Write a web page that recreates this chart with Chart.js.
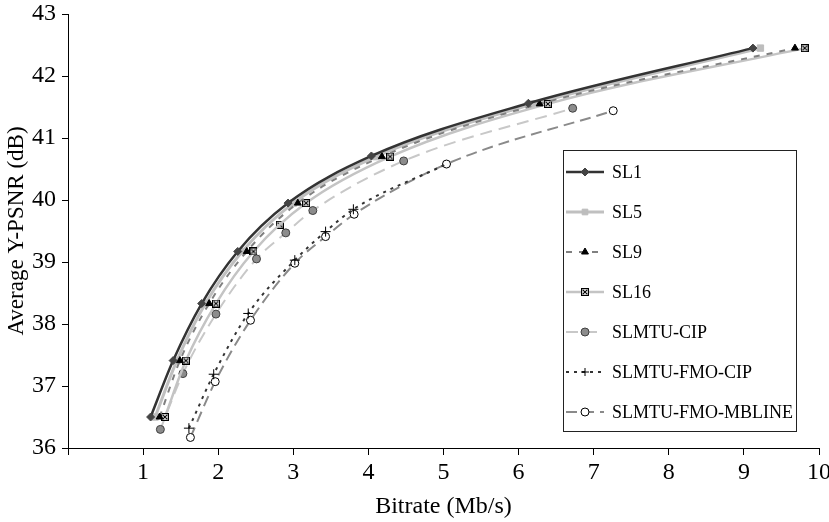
<!DOCTYPE html>
<html>
<head>
<meta charset="utf-8">
<style>
html, body { margin: 0; padding: 0; background: #fff; }
#wrap { width: 829px; height: 522px; }
</style>
<script src="https://cdn.jsdelivr.net/npm/chart.js"></script>
</head>
<body>
<div id="wrap"><canvas id="psnrChart" width="829" height="522"></canvas></div>
<script>
// Valores (bitrate en Mb/s, PSNR en dB)
var seriesNames = ['SL1', 'SL5', 'SL9', 'SL16', 'SLMTU-CIP', 'SLMTU-FMO-CIP', 'SLMTU-FMO-MBLINE'];

var sl1Rate  = [1.10, 1.40, 1.78, 2.26, 2.93, 4.04, 6.13, 9.12];
var sl1Psnr  = [36.50, 37.41, 38.33, 39.17, 39.95, 40.71, 41.56, 42.45];
var sl5Rate  = [1.16, 1.45, 1.83, 2.32, 3.00, 4.10, 6.20, 9.22];
var sl5Psnr  = [36.50, 37.41, 38.33, 39.17, 39.95, 40.70, 41.55, 42.45];
var sl9Rate  = [1.22, 1.49, 1.88, 2.38, 3.06, 4.18, 6.28, 9.68];
var sl9Psnr  = [36.50, 37.41, 38.33, 39.17, 39.95, 40.70, 41.55, 42.45];
var sl16Rate = [1.29, 1.57, 1.97, 2.47, 3.17, 4.29, 6.39, 9.81];
var sl16Psnr = [36.50, 37.41, 38.33, 39.17, 39.95, 40.70, 41.55, 42.45];
var cipRate  = [1.23, 1.53, 1.97, 2.51, 2.90, 3.26, 4.47, 6.72];
var cipPsnr  = [36.30, 37.20, 38.16, 39.05, 39.47, 39.83, 40.63, 41.48];
var fmoCipRate = [1.61, 1.94, 2.40, 3.02, 3.43, 3.80, 5.04];
var fmoCipPsnr = [36.32, 37.19, 38.17, 39.03, 39.49, 39.85, 40.58];
var mblRate  = [1.63, 1.96, 2.43, 3.02, 3.43, 3.81, 5.04, 7.26];
var mblPsnr  = [36.17, 37.07, 38.06, 38.98, 39.41, 39.77, 40.58, 41.44];
// marcador suelto de SL16 que aparece en el original
var strayRate = [2.82];
var strayPsnr = [39.60];

var xTicks = [0, 1, 2, 3, 4, 5, 6, 7, 8, 9, 10];
var yTicks = [36, 37, 38, 39, 40, 41, 42, 43];

function pairs(xs, ys) {
    return xs.map(function (x, i) { return { x: x, y: ys[i] }; });
}

// marcador cuadrado con aspa (SL16)
var xBox = document.createElement('canvas');
xBox.width = 8; xBox.height = 8;
(function () {
    var g = xBox.getContext('2d');
    g.fillStyle = '#fff'; g.fillRect(0, 0, 8, 8);
    g.strokeStyle = '#000'; g.lineWidth = 1.2;
    g.strokeRect(0.6, 0.6, 6.8, 6.8);
    g.beginPath();
    g.moveTo(1.8, 1.8); g.lineTo(6.2, 6.2);
    g.moveTo(6.2, 1.8); g.lineTo(1.8, 6.2);
    g.stroke();
})();

var serif = "'Liberation Serif', 'DejaVu Serif', serif";

// Leyenda dibujada dentro del área del gráfico
var legendBox = {
    id: 'legendBox',
    afterDatasetsDraw: function (chart) {
        var c = chart.ctx;
        var x0 = 563, y0 = 150, w = 233, h = 281;
        c.save();
        c.fillStyle = '#fff';
        c.fillRect(x0, y0, w, h);
        c.strokeStyle = '#222';
        c.lineWidth = 1;
        c.strokeRect(x0 + 0.5, y0 + 0.5, w, h);
        c.font = '18px ' + serif;
        c.textBaseline = 'middle';
        c.textAlign = 'left';
        seriesNames.forEach(function (name, i) {
            var ds = chart.data.datasets[i];
            var y = y0 + 22 + i * 40;
            c.setLineDash(ds.borderDash || []);
            c.strokeStyle = ds.borderColor;
            c.lineWidth = ds.borderWidth;
            c.beginPath();
            c.moveTo(x0 + 3, y);
            c.lineTo(x0 + 41, y);
            c.stroke();
            c.setLineDash([]);
            c.fillStyle = ds.pointBackgroundColor;
            c.strokeStyle = ds.pointBorderColor;
            c.lineWidth = ds.pointBorderWidth;
            Chart.helpers.drawPoint(c, {
                pointStyle: ds.pointStyle,
                radius: 4,
                rotation: 0,
                borderWidth: ds.pointBorderWidth
            }, x0 + 22, y);
            c.fillStyle = '#000';
            c.fillText(name, x0 + 49, y + 1);
        });
        c.restore();
    }
};

var ctx = document.getElementById('psnrChart').getContext('2d');
var psnrChart = new Chart(ctx, {
    type: 'line',
    data: {
        datasets: [
            {
                label: seriesNames[0], data: pairs(sl1Rate, sl1Psnr), order: 0,
                borderColor: '#333', borderWidth: 2.5,
                pointStyle: 'rectRot', pointRadius: 4,
                pointBackgroundColor: '#444', pointBorderColor: '#444', pointBorderWidth: 1
            },
            {
                label: seriesNames[1], data: pairs(sl5Rate, sl5Psnr), order: 3,
                borderColor: '#c0c0c0', borderWidth: 3,
                pointStyle: 'rect', pointRadius: 4.5,
                pointBackgroundColor: '#bdbdbd', pointBorderColor: '#bdbdbd', pointBorderWidth: 1
            },
            {
                label: seriesNames[2], data: pairs(sl9Rate, sl9Psnr), order: 1,
                borderColor: '#808080', borderWidth: 2, borderDash: [6, 7],
                pointStyle: 'triangle', pointRadius: 4,
                pointBackgroundColor: '#000', pointBorderColor: '#000', pointBorderWidth: 1
            },
            {
                label: seriesNames[3], data: pairs(sl16Rate, sl16Psnr), order: 2,
                borderColor: '#c4c4c4', borderWidth: 2.5,
                pointStyle: xBox, pointRadius: 4,
                pointBackgroundColor: '#fff', pointBorderColor: '#000', pointBorderWidth: 1
            },
            {
                label: seriesNames[4], data: pairs(cipRate, cipPsnr), order: 4,
                borderColor: '#c8c8c8', borderWidth: 2, borderDash: [12, 7],
                pointStyle: 'circle', pointRadius: 4,
                pointBackgroundColor: '#8c8c8c', pointBorderColor: '#404040', pointBorderWidth: 1
            },
            {
                label: seriesNames[5], data: pairs(fmoCipRate, fmoCipPsnr), order: 5,
                borderColor: '#333', borderWidth: 2, borderDash: [3, 5],
                pointStyle: 'cross',
                pointRadius: function (c) { return c.dataIndex === fmoCipRate.length - 1 ? 0 : 5; },
                pointBackgroundColor: '#000', pointBorderColor: '#000', pointBorderWidth: 1
            },
            {
                label: seriesNames[6], data: pairs(mblRate, mblPsnr), order: 6,
                borderColor: '#8a8a8a', borderWidth: 2, borderDash: [11, 6],
                pointStyle: 'circle', pointRadius: 4,
                pointBackgroundColor: '#fff', pointBorderColor: '#000', pointBorderWidth: 1
            },
            {
                label: 'SL16 (suelto)', data: pairs(strayRate, strayPsnr), order: 2,
                showLine: false,
                pointStyle: xBox, pointRadius: 4,
                pointBackgroundColor: '#fff', pointBorderColor: '#000', pointBorderWidth: 1
            }
        ]
    },
    options: {
        responsive: false,
        animation: false,
        devicePixelRatio: 1,
        cubicInterpolationMode: 'monotone',
        layout: { padding: { left: 0, top: 14, right: 10, bottom: 0 } },
        plugins: {
            legend: { display: false },
            tooltip: { enabled: false }
        },
        scales: {
            x: {
                type: 'linear',
                min: xTicks[0], max: xTicks[xTicks.length - 1],
                afterFit: function (s) { s.height = 74; s.paddingLeft = 0; s.paddingRight = 0; },
                afterBuildTicks: function (s) { s.ticks = xTicks.map(function (v) { return { value: v }; }); },
                ticks: {
                    color: '#000', padding: 3, maxRotation: 0, autoSkip: false,
                    font: { family: serif, size: 24 },
                    callback: function (v) { return v === 0 ? '' : v; }
                },
                grid: { drawOnChartArea: false, drawTicks: true, tickLength: 7, color: '#000' },
                border: { display: true, color: '#000', width: 1 },
                title: {
                    display: true, text: 'Bitrate (Mb/s)', color: '#000',
                    font: { family: serif, size: 24 }, padding: { top: 0, bottom: 1 }
                }
            },
            y: {
                min: yTicks[0], max: yTicks[yTicks.length - 1],
                afterFit: function (s) { s.width = 68; s.paddingTop = 0; s.paddingBottom = 0; },
                afterBuildTicks: function (s) { s.ticks = yTicks.map(function (v) { return { value: v }; }); },
                ticks: {
                    color: '#000', padding: 6, autoSkip: false,
                    font: { family: serif, size: 24 }
                },
                grid: { drawOnChartArea: false, drawTicks: true, tickLength: 6, color: '#000' },
                border: { display: true, color: '#000', width: 1 },
                title: {
                    display: true, text: 'Average Y-PSNR (dB)', color: '#000',
                    font: { family: serif, size: 23 }, padding: { top: 3, bottom: 0 }
                }
            }
        }
    },
    plugins: [legendBox]
});
</script>
</body>
</html>
